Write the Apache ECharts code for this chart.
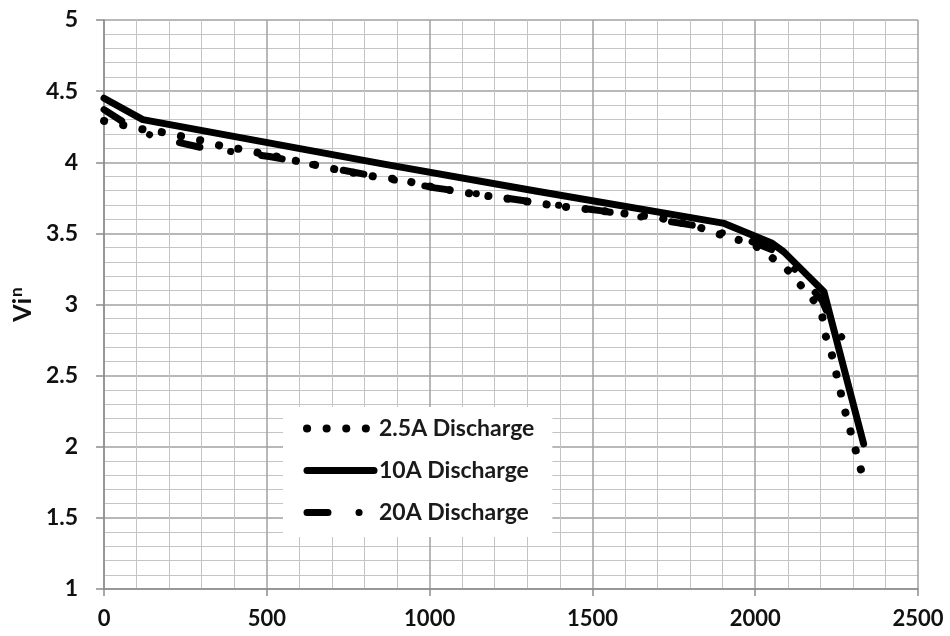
<!DOCTYPE html>
<html>
<head>
<meta charset="utf-8">
<script src="https://cdn.jsdelivr.net/npm/echarts@6/dist/echarts.min.js"></script>
<style>
html,body{margin:0;padding:0;background:#fff;}
#chart{width:950px;height:636px;}
</style>
</head>
<body>
<div id="chart"></div>
<script>
const xMin = 0, xMax = 2500, xStep = 500;
const yMin = 1, yMax = 5, yStep = 0.5;
const seriesNames = ['2.5A Discharge', '10A Discharge', '20A Discharge'];

const discharge2_5A = [
  [0, 4.29], [61, 4.26], [122, 4.23], [183, 4.21], [305, 4.15], [366, 4.11],
  [427, 4.09], [610, 4.00], [671, 3.97], [732, 3.94], [853, 3.89], [914, 3.88],
  [975, 3.84], [1097, 3.79], [1219, 3.75], [1402, 3.69], [1524, 3.66],
  [1707, 3.61], [1819, 3.55], [1880, 3.50], [1941, 3.46], [1996, 3.42],
  [2093, 3.26], [2134, 3.15], [2174, 3.05], [2205, 2.93], [2215, 2.79],
  [2235, 2.65], [2276, 2.25], [2327, 1.82]
];

const discharge10A = [
  [0, 4.45], [119, 4.30], [864, 3.985], [1321, 3.80], [1905, 3.57],
  [2052, 3.43], [2088, 3.37], [2211, 3.09], [2333, 2.02]
];

const discharge20A = [
  [0, 4.37], [61, 4.28], [152, 4.18], [305, 4.10], [508, 4.04], [813, 3.91],
  [1016, 3.82], [1321, 3.72], [1524, 3.66], [1829, 3.55], [1981, 3.45],
  [2078, 3.36], [2205, 3.03], [2235, 2.87], [2304, 2.65]
];

const chart = echarts.init(document.getElementById('chart'), null, {renderer: 'canvas'});
const labelFont = 'Lato, "Open Sans", sans-serif';

chart.setOption({
  animation: false,
  backgroundColor: '#fff',
  grid: {left: 101, right: 32, top: 20, bottom: 47, containLabel: false},
  xAxis: {
    type: 'value', min: xMin, max: xMax, interval: xStep,
    axisLine: {show: true, lineStyle: {color: '#8c8c8c', width: 1.5}},
    axisTick: {show: true, length: 7, lineStyle: {color: '#8c8c8c', width: 1.5}},
    minorTick: {show: false, splitNumber: 5},
    splitLine: {show: true, lineStyle: {color: '#a0a0a0', width: 1.5}},
    minorSplitLine: {show: true, lineStyle: {color: '#c4c4c4', width: 1}},
    axisLabel: {color: '#111', fontSize: 22, fontWeight: 'bold', fontFamily: labelFont, margin: 19,
      formatter: v => String(v)}
  },
  yAxis: {
    type: 'value', min: yMin, max: yMax, interval: yStep,
    name: '{a|Vi}{b|n}', nameLocation: 'middle', nameGap: 52, nameRotate: 90,
    nameTextStyle: {
      color: '#111', fontSize: 25, fontWeight: 'bold', fontFamily: labelFont,
      rich: {
        a: {color: '#111', fontSize: 25, fontWeight: 'bold', fontFamily: labelFont},
        b: {color: '#111', fontSize: 17, fontWeight: 'bold', fontFamily: labelFont, padding: [0, 0, 12, 1]}
      }
    },
    axisLine: {show: true, lineStyle: {color: '#8c8c8c', width: 1.5}},
    axisTick: {show: true, length: 8, lineStyle: {color: '#8c8c8c', width: 1.5}},
    minorTick: {show: false, splitNumber: 5},
    splitLine: {show: true, lineStyle: {color: '#a0a0a0', width: 1.5}},
    minorSplitLine: {show: true, lineStyle: {color: '#c4c4c4', width: 1}},
    axisLabel: {color: '#111', fontSize: 23, fontWeight: 'bold', fontFamily: labelFont, margin: 26,
      formatter: v => String(v)}
  },
  legend: {
    orient: 'vertical', left: 283, top: 407,
    data: seriesNames,
    itemWidth: 67, itemHeight: 10, itemGap: 19,
    padding: [10, 18, 13, 20],
    backgroundColor: '#fff',
    textStyle: {color: '#1a1a1a', fontSize: 23, fontWeight: 'bold', fontFamily: labelFont},
    itemStyle: {opacity: 0},
    lineStyle: {width: 'inherit', type: 'inherit', cap: 'round'}
  },
  series: [
    {
      name: seriesNames[0], type: 'line', data: discharge2_5A, showSymbol: false, symbol: 'none',
      lineStyle: {color: '#000', width: 8, type: [0.1, 19.5], cap: 'round'},
      itemStyle: {color: '#000'}, z: 3
    },
    {
      name: seriesNames[1], type: 'line', data: discharge10A, showSymbol: false, symbol: 'none',
      lineStyle: {color: '#000', width: 7, type: 'solid', cap: 'round', join: 'round'},
      itemStyle: {color: '#000'}, z: 2
    },
    {
      name: seriesNames[2], type: 'line', data: discharge20A, showSymbol: false, symbol: 'none',
      lineStyle: {color: '#000', width: 7, type: [21, 31, 0.1, 31], cap: 'round'},
      itemStyle: {color: '#000'}, z: 3
    }
  ]
});
</script>
</body>
</html>
